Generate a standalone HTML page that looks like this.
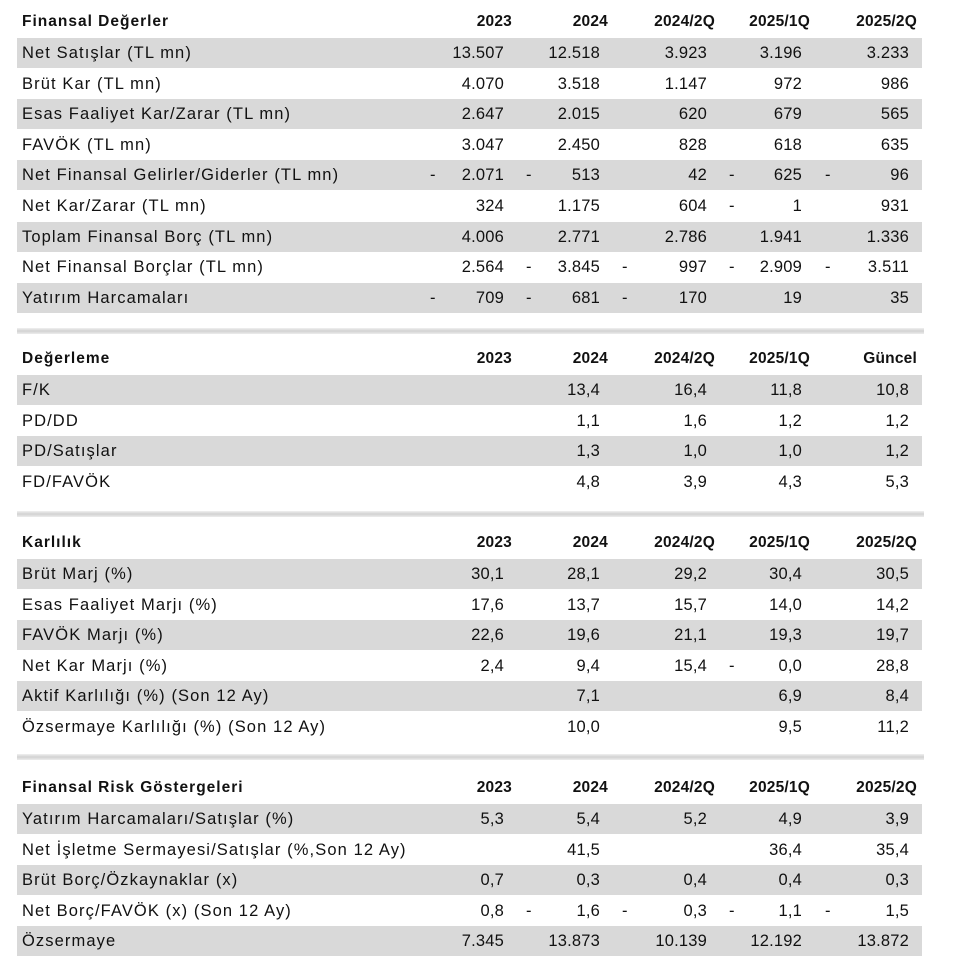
<!DOCTYPE html>
<html><head><meta charset="utf-8">
<style>
body{margin:0;width:960px;height:976px;background:#fff;position:relative;overflow:hidden;font-family:"Liberation Sans","DejaVu Sans",sans-serif;color:#111;}
.band{position:absolute;left:17px;width:905px;height:30px;background:#d9d9d9;}
.t{position:absolute;font-size:16.5px;line-height:20px;white-space:nowrap;letter-spacing:0.2px}
.lab{letter-spacing:1.1px;}
.h{font-weight:bold;font-size:15.5px;}
.ttl{letter-spacing:1px;}
.sep{position:absolute;left:17px;width:907px;height:6px;background:linear-gradient(#f0f0f0,#d2d2d2 50%,#ececec);}
</style></head><body>
<script>
const cols=[504,600,707,802,909];
const dashX=[430,526,622,729,825];
const sections=[
 {title:"Finansal Değerler",heads:["2023","2024","2024/2Q","2025/1Q","2025/2Q"],hy:22,rows:[
  ["Net Satışlar (TL mn)","13.507","12.518","3.923","3.196","3.233"],
  ["Brüt Kar (TL mn)","4.070","3.518","1.147","972","986"],
  ["Esas Faaliyet Kar/Zarar (TL mn)","2.647","2.015","620","679","565"],
  ["FAVÖK (TL mn)","3.047","2.450","828","618","635"],
  ["Net Finansal Gelirler/Giderler (TL mn)","-2.071","-513","42","-625","-96"],
  ["Net Kar/Zarar (TL mn)","324","1.175","604","-1","931"],
  ["Toplam Finansal Borç (TL mn)","4.006","2.771","2.786","1.941","1.336"],
  ["Net Finansal Borçlar (TL mn)","2.564","-3.845","-997","-2.909","-3.511"],
  ["Yatırım Harcamaları","-709","-681","-170","19","35"]]},
 {title:"Değerleme",heads:["2023","2024","2024/2Q","2025/1Q","Güncel"],hy:359,rows:[
  ["F/K","","13,4","16,4","11,8","10,8"],
  ["PD/DD","","1,1","1,6","1,2","1,2"],
  ["PD/Satışlar","","1,3","1,0","1,0","1,2"],
  ["FD/FAVÖK","","4,8","3,9","4,3","5,3"]]},
 {title:"Karlılık",heads:["2023","2024","2024/2Q","2025/1Q","2025/2Q"],hy:543,rows:[
  ["Brüt Marj (%)","30,1","28,1","29,2","30,4","30,5"],
  ["Esas Faaliyet Marjı (%)","17,6","13,7","15,7","14,0","14,2"],
  ["FAVÖK Marjı (%)","22,6","19,6","21,1","19,3","19,7"],
  ["Net Kar Marjı (%)","2,4","9,4","15,4","-0,0","28,8"],
  ["Aktif Karlılığı (%) (Son 12 Ay)","","7,1","","6,9","8,4"],
  ["Özsermaye Karlılığı (%) (Son 12 Ay)","","10,0","","9,5","11,2"]]},
 {title:"Finansal Risk Göstergeleri",heads:["2023","2024","2024/2Q","2025/1Q","2025/2Q"],hy:788,rows:[
  ["Yatırım Harcamaları/Satışlar (%)","5,3","5,4","5,2","4,9","3,9"],
  ["Net İşletme Sermayesi/Satışlar (%,Son 12 Ay)","","41,5","","36,4","35,4"],
  ["Brüt Borç/Özkaynaklar (x)","0,7","0,3","0,4","0,4","0,3"],
  ["Net Borç/FAVÖK (x) (Son 12 Ay)","0,8","-1,6","-0,3","-1,1","-1,5"],
  ["Özsermaye","7.345","13.873","10.139","12.192","13.872"]]}
];
const sepY=[328,511,754];
const pitch=30.6;
function add(cls,text,x,y,right){
 const d=document.createElement('div');
 d.className='t '+cls;
 d.textContent=text;
 d.style.top=(y-10)+'px';
 if(right){d.style.right=(960-x)+'px';}else{d.style.left=x+'px';}
 document.body.appendChild(d);
 return d;
}
sections.forEach((s,si)=>{
 const t=add('h ttl',s.title,22,s.hy,false);
 
 
 s.heads.forEach((h,i)=>{
  const e=add('h',h,cols[i]+8,s.hy,true);
  
  
 });
 s.rows.forEach((r,ri)=>{
  const cy=s.hy+31+ri*pitch;
  if(ri%2===0){
   const b=document.createElement('div');
   b.className='band';
   b.style.top=(cy-15)+'px';
   
   
   document.body.appendChild(b);
  }
  const l=add('lab',r[0],22,cy,false);
  
  
  for(let i=0;i<5;i++){
   let v=r[i+1];
   if(!v)continue;
   if(v[0]==='-'){
    v=v.slice(1);
    const m=add('','-',dashX[i],cy,false);
    
    
   }
   const c=add('',v,cols[i],cy,true);
   
   
  }
 });
});
sepY.forEach(y=>{
 const s=document.createElement('div');
 s.className='sep';
 s.style.top=y+'px';
 
 
 document.body.appendChild(s);
});
</script>
</body></html>
